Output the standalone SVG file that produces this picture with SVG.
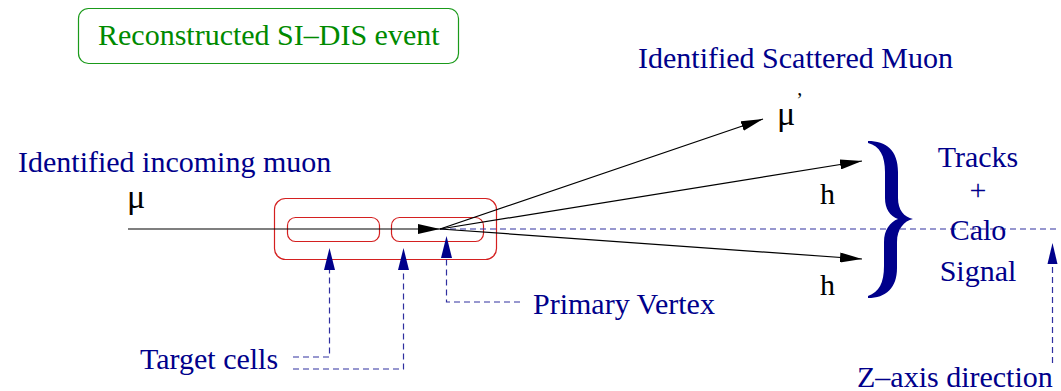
<svg xmlns="http://www.w3.org/2000/svg" width="1061" height="391" viewBox="0 0 1061 391">
<style>
text{font-family:"Liberation Serif","Times New Roman",serif;font-size:30px}
.b{fill:#00008b}
.k{fill:#000}
.g{fill:#008a00}
.mu{font-size:34px}
.red{fill:none;stroke:#d42020;stroke-width:1.2}
.dash{fill:none;stroke:#3030a0;stroke-width:1.2;stroke-dasharray:6 4}
.ln{fill:none;stroke:#000;stroke-width:1.2}
</style>
<defs>
<marker id="ak" markerWidth="22" markerHeight="10" refX="22" refY="5" orient="auto" markerUnits="userSpaceOnUse"><path d="M0,0 L22,5 L0,10 z" fill="#000"/></marker>
</defs>
<g id="title">
<rect x="78.5" y="8.5" width="380" height="55" rx="10" fill="none" stroke="#1a9a1a" stroke-width="1.2"/>
<text class="g" x="98" y="45">Reconstructed SI–DIS event</text>
</g>
<g id="target">
<rect class="red" x="274.5" y="198.5" width="222" height="61" rx="11"/>
<rect class="red" x="287.5" y="217.5" width="92" height="24" rx="8"/>
<rect class="red" x="391.5" y="217.5" width="92" height="24" rx="8"/>
</g>
<g id="connectors">
<line class="ln" x1="128" y1="229" x2="440" y2="229" marker-end="url(#ak)"/>
<line class="dash" x1="440" y1="229" x2="1058" y2="229"/>
<line class="ln" x1="440" y1="229" x2="763" y2="119" marker-end="url(#ak)"/>
<line class="ln" x1="440" y1="229" x2="862" y2="161" marker-end="url(#ak)"/>
<line class="ln" x1="440" y1="229" x2="862" y2="259" marker-end="url(#ak)"/>
<polyline class="dash" points="293,357 329.5,357 329.5,268"/>
<polyline class="dash" points="293,369 403.5,369 403.5,268"/>
<polyline class="dash" points="520,302 446.5,302 446.5,256"/>
<polyline class="dash" points="1052.5,363 1052.5,262"/>
<path d="M329.5,248 L324,270 L335,270 z" fill="#00008b"/>
<path d="M403.5,248 L398,270 L409,270 z" fill="#00008b"/>
<path d="M446.5,236 L441,258 L452,258 z" fill="#00008b"/>
<path d="M1052.5,243 L1047.5,264 L1057.5,264 z" fill="#00008b"/>
</g>
<g id="labels">
<text class="b" x="638" y="68">Identified Scattered Muon</text>
<text class="b" x="18" y="172">Identified incoming muon</text>
<text class="k mu" x="127" y="208">μ</text>
<text class="k mu" x="777" y="125">μ<tspan font-size="20" dx="1" dy="-18">’</tspan></text>
<text class="k" x="820" y="204">h</text>
<text class="k" x="820" y="295">h</text>
<text class="b" x="533" y="314">Primary Vertex</text>
<text class="b" x="140" y="369">Target cells</text>
<text class="b" x="857" y="387">Z–axis direction</text>
</g>
<g id="brace">
<path fill="#00008b" d="M868,141 C886,141 898,150 898,172 L898,198 C898,210 904,217 913,219 C904,221 897,229 897,242 L897,268 C897,288 886,298 868,298 L868,296 C879,292 884,283 884,266 L884,242 C884,230 890,222 898,219 C890,216 885,209 885,198 L885,172 C885,156 880,146 868,143 Z"/>
</g>
<g id="signal">
<text class="b" x="978" y="167" text-anchor="middle">Tracks</text>
<text class="b" x="978" y="200" text-anchor="middle">+</text>
<text class="b" x="978" y="240" text-anchor="middle">Calo</text>
<text class="b" x="978" y="281" text-anchor="middle">Signal</text>
</g>
</svg>
